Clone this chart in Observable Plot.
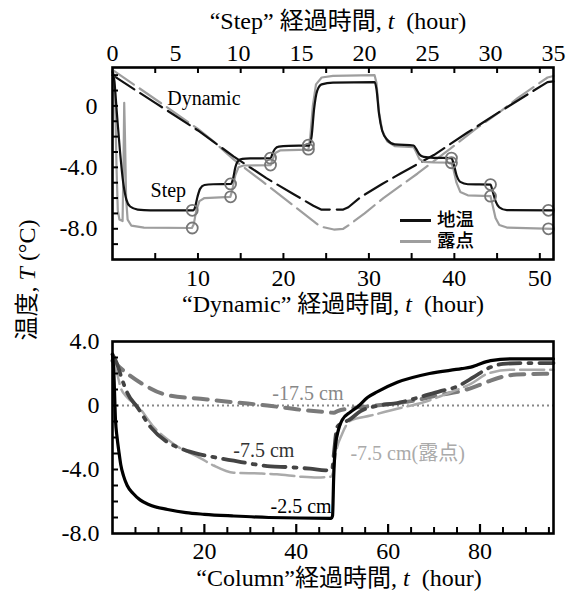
<!DOCTYPE html>
<html><head><meta charset="utf-8">
<script src="https://cdn.jsdelivr.net/npm/d3@7"></script>
<script src="https://cdn.jsdelivr.net/npm/@observablehq/plot@0.6"></script>
<style>
body{margin:0;background:#fff;}
#wrap{position:relative;width:576px;height:596px;overflow:hidden;font-family:"Liberation Serif","Times New Roman","DejaVu Serif","Noto Sans CJK JP",serif;color:#000;}
#wrap svg{position:absolute;left:0;}
.ttl{position:absolute;font-size:24px;white-space:pre;transform:translate(-50%,-50%);line-height:1;color:#000;}
.ttl i, .ylab i{font-style:italic;}
.ylab{position:absolute;font-size:24px;white-space:pre;line-height:1;color:#000;transform:translate(-50%,-50%) rotate(-90deg);}
.lg{position:absolute;font-family:"Liberation Serif","Noto Sans CJK JP",sans-serif;font-size:18.5px;font-weight:500;line-height:21px;color:#000;}
.lgl{position:absolute;height:2.5px;}
</style></head>
<body><div id="wrap"></div>
<script>
// ---------- data ----------
const STEP_MAX = 35;          // "Step" elapsed time axis (top)
const DYN_MAX = 51.6;         // "Dynamic" elapsed time axis (bottom of top panel)
const TOP_Y = [-10, 2.5];
const COL_X = [0, 96];
const COL_Y = [-8, 4];

const stepTicks = [0, 5, 10, 15, 20, 25, 30, 35];
const dynTicks = [10, 20, 30, 40, 50];
const dynMinorTicks = [5, 10, 15, 20, 25, 30, 35, 40, 45, 50];
const topYTicks = [0, -4, -8];
const topYMinor = [-9, -8, -7, -6, -5, -4, -3, -2, -1, 0, 1, 2];
const colXTicks = [20, 40, 60, 80];
const colXMinor = [5, 10, 15, 25, 30, 35, 45, 50, 55, 65, 70, 75, 85, 90, 95];
const colYTicks = [4, 0, -4, -8];
const colYMinor = [-7, -6, -5, -4, -3, -2, -1, 0, 1, 2, 3];

// "Step" experiment, time in step hours: [t, °C]
const stepSoil = [[0,2.2],[0.15,1.6],[0.35,-0.5],[0.6,-3.0],[0.85,-5.0],[1.1,-6.1],[1.4,-6.55],[2.0,-6.75],[3.0,-6.8],[6.4,-6.8],[6.55,-6.6],[6.75,-5.9],[6.95,-5.4],[7.3,-5.15],[8.0,-5.1],[9.4,-5.08],[9.55,-4.8],[9.75,-4.0],[9.95,-3.6],[10.3,-3.45],[11,-3.42],[12.55,-3.4],[12.7,-3.1],[12.9,-2.8],[13.2,-2.65],[14,-2.6],[15.6,-2.58],[15.8,-2.0],[16.0,-0.2],[16.25,1.0],[16.6,1.4],[17.5,1.52],[20.8,1.55],[20.95,1.1],[21.15,-0.5],[21.4,-1.6],[21.8,-2.2],[22.4,-2.5],[23.9,-2.58],[24.1,-2.8],[24.35,-3.15],[24.7,-3.32],[25.5,-3.38],[26.9,-3.4],[27.05,-3.7],[27.3,-4.5],[27.6,-4.95],[28.2,-5.1],[30.0,-5.12],[30.15,-5.5],[30.4,-6.2],[30.7,-6.6],[31.3,-6.78],[35,-6.8]];
const stepDew = [[0,2.3],[0.12,2.0],[0.22,0.0],[0.32,-4.0],[0.42,-6.8],[0.55,-7.4],[0.8,-7.5],[0.87,-4.0],[0.93,0.2],[0.99,-2.0],[1.08,-6.0],[1.2,-7.4],[1.5,-7.8],[2.5,-7.92],[6.3,-7.95],[6.45,-7.7],[6.65,-6.8],[6.9,-6.2],[7.3,-6.0],[9.35,-5.92],[9.5,-5.5],[9.75,-4.5],[10.0,-4.0],[10.4,-3.88],[12.55,-3.85],[12.7,-3.5],[12.95,-3.05],[13.3,-2.9],[15.55,-2.85],[15.7,-2.0],[15.9,0.0],[16.15,1.4],[16.6,1.85],[17.5,1.95],[20.8,2.0],[20.95,1.5],[21.15,-0.4],[21.4,-1.6],[21.8,-2.3],[22.4,-2.62],[23.9,-2.68],[24.1,-3.0],[24.35,-3.45],[24.7,-3.65],[25.5,-3.68],[26.9,-3.7],[27.05,-4.1],[27.3,-5.0],[27.6,-5.6],[28.2,-5.82],[30.0,-5.88],[30.15,-6.4],[30.4,-7.3],[30.7,-7.75],[31.3,-7.92],[35,-8.0]];
const stepCircleTimes = [6.33, 9.37, 12.54, 15.55, 26.9, 30.0, 34.6];
const stepCircleSoil = [-6.8, -5.08, -3.4, -2.55, -3.4, -5.12, -6.8];
const stepCircleDew = [-7.95, -5.92, -3.85, -2.82, -3.7, -5.88, -8.0];

// "Dynamic" experiment, time in dynamic hours: [t, °C]
const dynSoil = [[0,2.0],[5,0.2],[10,-1.6],[14.2,-3.3],[18,-4.7],[21.2,-5.75],[23.5,-6.5],[24.4,-6.75],[27,-6.75],[27.6,-6.6],[29,-5.95],[31.5,-5.1],[33.7,-4.4],[37.6,-3.2],[41.5,-1.75],[45.4,-0.35],[49.3,1.0],[50.9,1.55],[51.6,1.6]];
const dynDew = [[0,2.35],[3,1.2],[6.4,-0.1],[10,-1.5],[12,-2.4],[14.2,-3.5],[17.5,-4.9],[21.2,-6.5],[24.3,-7.85],[25.9,-8.05],[27,-8.0],[27.8,-7.7],[29.5,-7.0],[31.7,-6.0],[35.7,-4.4],[39.5,-2.8],[42.5,-1.5],[45.4,-0.35],[47.4,0.5],[50.9,1.85],[51.6,1.95]];

// "Column" experiment: [t, °C]
const col25 = [[0,3.2],[0.3,2.0],[0.65,-0.9],[1.0,-2.0],[1.4,-2.9],[1.8,-3.7],[2.4,-4.4],[3.2,-5.0],[4.5,-5.5],[6,-5.9],[8,-6.2],[12,-6.5],[16,-6.7],[20,-6.8],[26,-6.9],[34,-7.0],[47.6,-7.05],[47.9,-6.9],[48.15,-4.5],[48.5,-2.6],[49.2,-1.5],[50,-0.9],[51.8,-0.4],[53.5,-0.05],[55.5,0.5],[57.6,0.85],[62,1.45],[69,2.0],[76,2.3],[78,2.4],[79.5,2.55],[82.3,2.8],[87,2.92],[96,2.92]];
const col75 = [[0,3.2],[1,2.6],[2,1.7],[3.2,0.8],[5.4,-0.1],[8.3,-1.35],[12,-2.3],[15,-2.7],[19,-3.05],[22.4,-3.25],[26.4,-3.45],[31.5,-3.7],[34.4,-3.8],[38,-3.85],[43,-3.95],[46.4,-4.05],[47.8,-4.0],[48.2,-3.0],[48.9,-1.35],[50,-1.1],[51.5,-0.9],[54,-0.35],[58,0.0],[62,0.15],[66,0.45],[71.4,0.9],[74.7,1.15],[78.6,1.77],[81.6,2.3],[85,2.6],[89,2.65],[96,2.65]];
const col75dew = [[0,2.8],[1,2.0],[1.74,1.15],[3.2,0.5],[5.4,0.0],[9,-1.35],[13.3,-2.4],[19.2,-3.3],[22,-3.75],[26.4,-4.2],[32.2,-4.25],[35.8,-4.3],[41,-4.45],[44.6,-4.5],[47.5,-4.45],[48.0,-4.2],[48.6,-3.0],[50,-1.77],[51.8,-0.94],[56.2,-0.63],[62,-0.2],[67.7,0.2],[73.6,0.83],[78,1.35],[81.6,1.98],[86.6,2.23],[96,2.23]];
const col175 = [[0,2.8],[1.5,2.4],[3.2,2.0],[6.8,1.3],[11.9,0.65],[19.2,0.42],[26.4,0.2],[33.7,0.0],[41,-0.27],[45,-0.38],[48.2,-0.45],[49,-0.35],[52.5,-0.15],[56,-0.05],[60.5,0.1],[65.6,0.3],[70.7,0.63],[76.4,0.94],[80,1.3],[82.3,1.56],[85,1.8],[88,1.94],[93.8,1.98],[96,2.0]];

// annotation texts (anchored in data units)
const topLabels = [{x: 6.4, y: 0.45, text: "Dynamic"}, {x: 4.45, y: -5.5, text: "Step"}];
const colLabels = [
  {x: 34.8, y: 0.77, text: "-17.5 cm", color: "#888"},
  {x: 26.3, y: -2.8, text: "-7.5 cm", color: "#333"},
  {x: 34.4, y: -6.3, text: "-2.5 cm", color: "#000"},
  {x: 51.8, y: -2.98, text: "-7.5 cm(露点)", color: "#aaa"}
];
const legendNames = ["地温", "露点"];
const legendColors = ["#111", "#9e9e9e"];

// ---------- drawing ----------
const FONT = '"Liberation Serif", "Times New Roman", "DejaVu Serif", "Noto Sans CJK JP", serif';
const fmtY = d => d === 0 ? "0" : d.toFixed(1);
const k = DYN_MAX / STEP_MAX;
const W = 576, ML = 112, MR = 23;
const FW = W - ML - MR;

const T_H = 318, T_MT = 67, T_MB = 59, T_FH = T_H - T_MT - T_MB;
const circles = stepCircleTimes.flatMap((t, i) => [{t, v: stepCircleSoil[i]}, {t, v: stepCircleDew[i]}]);

const topPlot = Plot.plot({
  width: W, height: T_H, marginTop: T_MT, marginBottom: T_MB, marginLeft: ML, marginRight: MR,
  style: {fontFamily: FONT, fontSize: "24px", color: "#000", background: "transparent", overflow: "visible"},
  x: {domain: [0, DYN_MAX]},
  y: {domain: TOP_Y},
  marks: [
    Plot.line(dynDew, {x: d => d[0], y: d => d[1], stroke: "#9e9e9e", strokeWidth: 2.2, strokeDasharray: "26,7"}),
    Plot.line(dynSoil, {x: d => d[0], y: d => d[1], stroke: "#111", strokeWidth: 2.2, strokeDasharray: "26,7"}),
    Plot.line(stepDew, {x: d => d[0] * k, y: d => d[1], stroke: "#9e9e9e", strokeWidth: 2.2}),
    Plot.line(stepSoil, {x: d => d[0] * k, y: d => d[1], stroke: "#111", strokeWidth: 2.2, curve: "monotone-x"}),
    Plot.dot(circles, {x: d => d.t * k, y: "v", r: 5.5, stroke: "#777", strokeWidth: 1.8, fill: "none"}),
    Plot.text(topLabels, {x: "x", y: "y", text: "text", textAnchor: "start", fontSize: 20, fill: "#000", fontFamily: FONT}),
    Plot.tickX(dynMinorTicks, {x: d => d, insetTop: T_FH - 6, stroke: "#000", strokeWidth: 2}),
    Plot.tickX(dynMinorTicks, {x: d => d, insetBottom: T_FH - 6, stroke: "#000", strokeWidth: 2}),
    Plot.tickY(topYMinor, {y: d => d, insetRight: FW - 6, stroke: "#000", strokeWidth: 2}),
    Plot.frame({stroke: "#000", strokeWidth: 2.6}),
    Plot.axisX(dynTicks, {anchor: "bottom", tickSize: 0, tickPadding: 9, label: null, fontSize: 24, fontFamily: FONT, fill: "#000"}),
    Plot.axisX(stepTicks.map(s => s * k), {anchor: "top", tickSize: 0, tickPadding: 7, label: null, fontSize: 24, fontFamily: FONT, fill: "#000", tickFormat: d => String(Math.round(d / k))}),
    Plot.axisY(topYTicks, {anchor: "left", tickSize: 0, tickPadding: 15, label: null, fontSize: 24, fontFamily: FONT, fill: "#000", tickFormat: fmtY})
  ]
});

const B_TOP = 318, B_H = 278, B_MT = 23, B_MB = 63, B_FH = B_H - B_MT - B_MB;
const bottomPlot = Plot.plot({
  width: W, height: B_H, marginTop: B_MT, marginBottom: B_MB, marginLeft: ML, marginRight: MR,
  style: {fontFamily: FONT, fontSize: "24px", color: "#000", background: "transparent", overflow: "visible"},
  x: {domain: COL_X},
  y: {domain: COL_Y},
  marks: [
    Plot.ruleY([0], {stroke: "#888", strokeWidth: 2, strokeDasharray: "2,3"}),
    Plot.line(col175, {x: d => d[0], y: d => d[1], stroke: "#7a7a7a", strokeWidth: 4, strokeDasharray: "14,9", curve: "monotone-x"}),
    Plot.line(col75dew, {x: d => d[0], y: d => d[1], stroke: "#aaa", strokeWidth: 2.5, strokeDasharray: "24,6", curve: "monotone-x"}),
    Plot.line(col75, {x: d => d[0], y: d => d[1], stroke: "#444", strokeWidth: 3.8, strokeDasharray: "22,8,3,8", curve: "monotone-x"}),
    Plot.line(col25, {x: d => d[0], y: d => d[1], stroke: "#000", strokeWidth: 3.2, curve: "monotone-x"}),
    Plot.text(colLabels, {x: "x", y: "y", text: "text", fill: "color", textAnchor: "start", fontSize: 20, fontFamily: FONT}),
    Plot.tickX(colXMinor, {x: d => d, insetTop: B_FH - 6, stroke: "#000", strokeWidth: 2}),
    Plot.tickX(colXTicks, {x: d => d, insetTop: B_FH - 9, stroke: "#000", strokeWidth: 2.2}),
    Plot.tickY(colYMinor, {y: d => d, insetRight: FW - 6, stroke: "#000", strokeWidth: 2}),
    Plot.frame({stroke: "#000", strokeWidth: 2.6}),
    Plot.axisX(colXTicks, {anchor: "bottom", tickSize: 0, tickPadding: 8, label: null, fontSize: 24, fontFamily: FONT, fill: "#000"}),
    Plot.axisY(colYTicks, {anchor: "left", tickSize: 0, tickPadding: 13, label: null, fontSize: 24, fontFamily: FONT, fill: "#000", tickFormat: fmtY})
  ]
});

const wrap = document.getElementById("wrap");
topPlot.style.top = "0px";
bottomPlot.style.top = B_TOP + "px";
wrap.appendChild(topPlot);
wrap.appendChild(bottomPlot);

function addTitle(html, cx, cy) {
  const d = document.createElement("div");
  d.className = "ttl"; d.innerHTML = html;
  d.style.left = cx + "px"; d.style.top = cy + "px";
  wrap.appendChild(d);
}
addTitle('\u201CStep\u201D 経過時間, <i>t</i>  (hour)', 338, 21);
addTitle('\u201CDynamic\u201D 経過時間, <i>t</i>  (hour)', 333, 304);
addTitle('\u201CColumn\u201D経過時間, <i>t</i>  (hour)', 339, 578);

const yl = document.createElement("div");
yl.className = "ylab"; yl.innerHTML = '温度, <i>T</i> (°C)';
yl.style.left = "27px"; yl.style.top = "280px";
wrap.appendChild(yl);

// legend: swatch lines + one two-line text block
const LG_Y0 = 220, LG_DY = 21;
legendColors.forEach((c, i) => {
  const ln = document.createElement("div");
  ln.className = "lgl"; ln.style.background = c;
  ln.style.left = "400px"; ln.style.width = "31px"; ln.style.top = (LG_Y0 + i * LG_DY - 1) + "px";
  wrap.appendChild(ln);
});
const lt = document.createElement("div");
lt.className = "lg"; lt.innerHTML = legendNames.join("<br>");
lt.style.left = "437px"; lt.style.top = (LG_Y0 - LG_DY / 2) + "px";
wrap.appendChild(lt);
</script></body></html>
